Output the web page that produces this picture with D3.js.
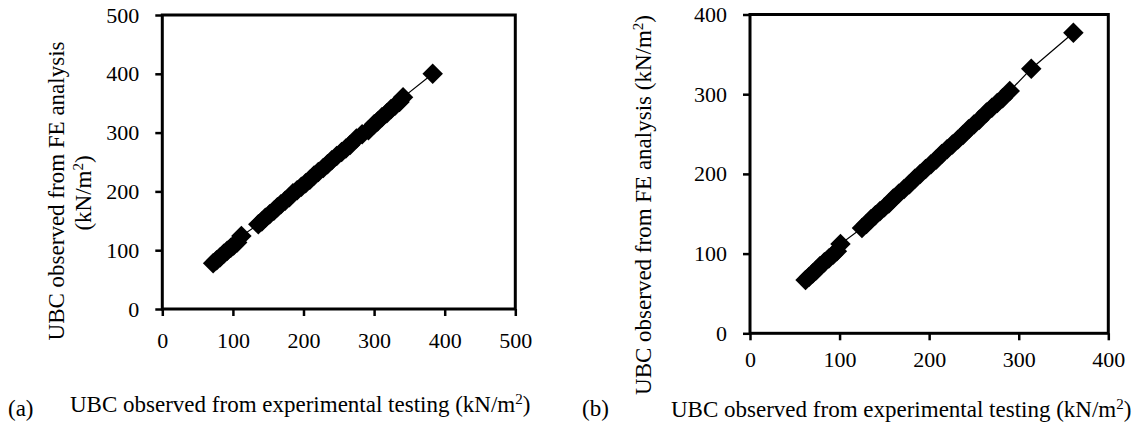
<!DOCTYPE html>
<html><head><meta charset="utf-8">
<script src="https://cdn.jsdelivr.net/npm/d3@7"></script>
<style>
html,body{margin:0;padding:0;background:#fff;}
svg{display:block;}
svg text{font-family:"Liberation Serif","DejaVu Serif",serif !important;fill:#000;}
</style></head>
<body>
<svg id="chart" width="1138" height="423"></svg>
<script>
// ---- Data ----
// Chart (a)
const xA = [72, 77, 82, 87, 92, 97, 101, 106, 112, 136, 141, 146, 152, 158, 163, 168, 174, 180, 185, 191, 197, 203, 209, 215, 221, 228, 234, 240, 247, 254, 260, 266, 275, 283, 292, 300, 305, 311, 318, 324, 330, 336, 341, 383];
const yA = [78, 83, 88, 94, 99, 104, 108, 113, 124, 144, 149, 155, 161, 167, 173, 178, 184, 190, 197, 202, 208, 214, 220, 227, 233, 240, 246, 253, 260, 267, 273, 279, 290, 297, 304, 314, 319, 326, 333, 340, 346, 352, 360, 400];
// Chart (b)
const xB = [62, 66, 70, 74, 78, 83, 88, 93, 97, 101, 125, 130, 135, 140, 145, 150, 155, 160, 166, 172, 178, 184, 190, 196, 202, 208, 214, 220, 226, 232, 238, 244, 250, 256, 264, 270, 276, 282, 290, 314, 361];
const yB = [67, 71, 75, 79, 84, 89, 94, 99, 103, 112, 132, 137, 143, 148, 153, 158, 163, 169, 175, 181, 187, 194, 200, 206, 212, 218, 225, 231, 237, 243, 249, 256, 262, 268, 277, 283, 289, 295, 304, 332, 377];
// Ticks
const ticksA = [0, 100, 200, 300, 400, 500];
const ticksB = [0, 100, 200, 300, 400];
const xTitle = "UBC observed from experimental testing (kN/m";
const yTitle = "UBC observed from FE analysis";
const unitTitle = "(kN/m";
const FONT = '"Liberation Serif","DejaVu Serif",serif';

const svg = d3.select("#chart");

function panel(cfg) {
  const g = svg.append("g");
  const x = d3.scaleLinear().domain(cfg.domain).range([cfg.left, cfg.right]);
  const y = d3.scaleLinear().domain(cfg.domain).range([cfg.bottom, cfg.top]);

  // frame
  g.append("rect").attr("x", cfg.left).attr("y", cfg.top)
    .attr("width", cfg.right - cfg.left).attr("height", cfg.bottom - cfg.top)
    .attr("fill", "none").attr("stroke", "#000").attr("stroke-width", 3);

  // axes
  const ax = g.append("g").attr("transform", `translate(0,${cfg.bottom})`)
    .call(d3.axisBottom(x).tickValues(cfg.ticks).tickSize(7).tickPadding(cfg.xPad).tickFormat(d3.format("d")));
  const ay = g.append("g").attr("transform", `translate(${cfg.left},0)`)
    .call(d3.axisLeft(y).tickValues(cfg.ticks).tickSize(7).tickPadding(16).tickFormat(d3.format("d")));
  [ax, ay].forEach(a => {
    a.attr("font-family", FONT).style("font-family", FONT);
    a.select(".domain").remove();
    a.selectAll(".tick line").attr("stroke", "#000").attr("stroke-width", 2.5);
    a.selectAll(".tick text").attr("font-size", 22).attr("fill", "#000")
      .style("font-family", FONT);
  });

  // data
  const pts = cfg.xs.map((v, i) => [v, cfg.ys[i]]);
  g.append("path").datum(pts)
    .attr("d", d3.line().x(d => x(d[0])).y(d => y(d[1])))
    .attr("fill", "none").attr("stroke", "#000").attr("stroke-width", 1.2);
  const sym = d3.symbol().type(d3.symbolSquare).size(210);
  g.selectAll(".mk").data(pts).enter().append("path")
    .attr("d", sym)
    .attr("transform", d => `translate(${x(d[0])},${y(d[1])}) rotate(45)`)
    .attr("fill", "#000");

  // x title
  const xt = g.append("text").attr("x", cfg.xTitleX).attr("y", cfg.xTitleY).attr("font-size", 23).style("font-family", FONT);
  xt.append("tspan").text(xTitle);
  xt.append("tspan").attr("dy", -8).attr("font-size", 15).text("2");
  xt.append("tspan").attr("dy", 8).text(")");
  g.append("text").attr("x", cfg.labelX).attr("y", cfg.labelY).attr("font-size", 23).style("font-family", FONT).text(cfg.label);
  return g;
}

// Panel (a)
const ga = panel({domain: [0, 500], ticks: ticksA, left: 162.3, right: 515.3, top: 15, bottom: 309,
  xs: xA, ys: yA, xPad: 16, xTitleX: 70, xTitleY: 412, label: "(a)", labelX: 8, labelY: 416});
// y title of (a): two lines
ga.append("text").attr("transform", "translate(64,191) rotate(-90)")
  .attr("text-anchor", "middle").attr("font-size", 23).style("font-family", FONT).text(yTitle);
const ya2 = ga.append("text").attr("transform", "translate(91,193) rotate(-90)")
  .attr("text-anchor", "middle").attr("font-size", 23).style("font-family", FONT);
ya2.append("tspan").text(unitTitle);
ya2.append("tspan").attr("dy", -8).attr("font-size", 15).text("2");
ya2.append("tspan").attr("dy", 8).text(")");

// Panel (b)
const gb = panel({domain: [0, 400], ticks: ticksB, left: 750, right: 1108.3, top: 14.5, bottom: 333.3,
  xs: xB, ys: yB, xPad: 11, xTitleX: 671, xTitleY: 417, label: "(b)", labelX: 582, labelY: 416});
const yb = gb.append("text").attr("transform", "translate(651,205) rotate(-90)")
  .attr("text-anchor", "middle").attr("font-size", 23).style("font-family", FONT);
yb.append("tspan").text(yTitle + " " + unitTitle);
yb.append("tspan").attr("dy", -8).attr("font-size", 15).text("2");
yb.append("tspan").attr("dy", 8).text(")");
</script>
</body></html>
